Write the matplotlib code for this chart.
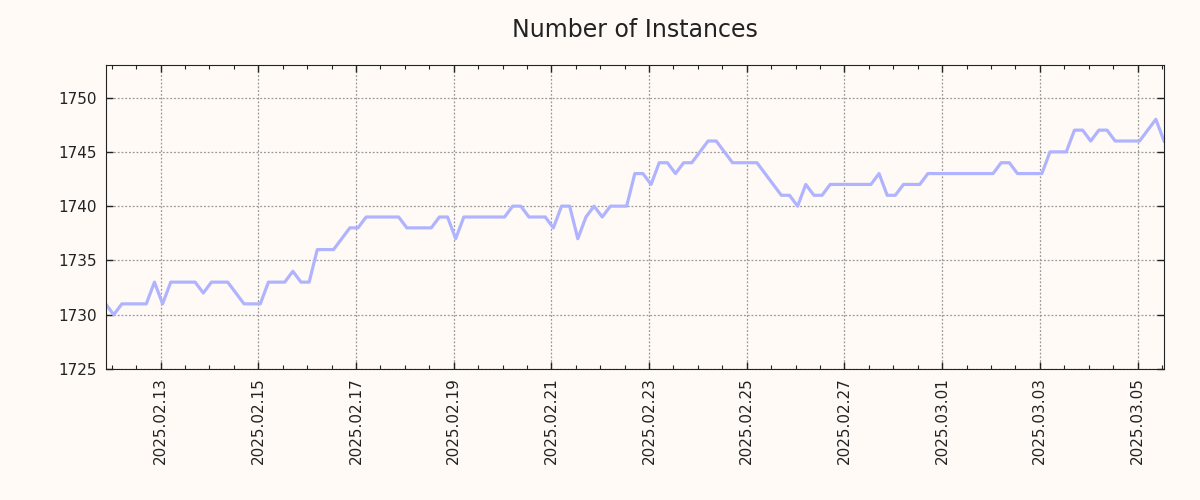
import pandas as pd
import matplotlib
matplotlib.use('Agg')
import matplotlib.pyplot as plt
import matplotlib.dates as mdates

# instance count, one reading every 4 hours
start_time = '2025-02-11 21:00'
step = '4h'
instances = [
    1731, 1730, 1731, 1731, 1731, 1731, 1733, 1731, 1733, 1733,
    1733, 1733, 1732, 1733, 1733, 1733, 1732, 1731, 1731, 1731,
    1733, 1733, 1733, 1734, 1733, 1733, 1736, 1736, 1736, 1737,
    1738, 1738, 1739, 1739, 1739, 1739, 1739, 1738, 1738, 1738,
    1738, 1739, 1739, 1737, 1739, 1739, 1739, 1739, 1739, 1739,
    1740, 1740, 1739, 1739, 1739, 1738, 1740, 1740, 1737, 1739,
    1740, 1739, 1740, 1740, 1740, 1743, 1743, 1742, 1744, 1744,
    1743, 1744, 1744, 1745, 1746, 1746, 1745, 1744, 1744, 1744,
    1744, 1743, 1742, 1741, 1741, 1740, 1742, 1741, 1741, 1742,
    1742, 1742, 1742, 1742, 1742, 1743, 1741, 1741, 1742, 1742,
    1742, 1743, 1743, 1743, 1743, 1743, 1743, 1743, 1743, 1743,
    1744, 1744, 1743, 1743, 1743, 1743, 1745, 1745, 1745, 1747,
    1747, 1746, 1747, 1747, 1746, 1746, 1746, 1746, 1747, 1748,
    1746,
]

df = pd.DataFrame({
    'datetime': pd.date_range(start_time, periods=len(instances), freq=step),
    'instances': instances,
})

bg = '#fffaf6'
fig = plt.figure(figsize=(12, 5), dpi=100, facecolor=bg)
ax = fig.add_axes([0.088, 0.262, 0.882, 0.608], facecolor=bg)

ax.plot(df['datetime'], df['instances'], color='#b0b4ff', linewidth=2.3)

ax.set_xlim(df['datetime'].iloc[0], df['datetime'].iloc[-1])
ax.set_ylim(1725, 1753)
ax.set_yticks(range(1725, 1751, 5))

ax.xaxis.set_major_locator(mdates.DayLocator(bymonthday=range(1, 32, 2)))
ax.xaxis.set_minor_locator(mdates.HourLocator(byhour=[0, 12]))
ax.xaxis.set_major_formatter(mdates.DateFormatter('%Y.%m.%d'))
plt.setp(ax.get_xticklabels(), rotation=90)

ax.tick_params(which='both', direction='in', top=True, right=True,
               labelsize=11, colors='#222222')
ax.tick_params(which='major', length=5, width=1, pad=6)
ax.tick_params(which='minor', length=3, width=0.8)
for s in ax.spines.values():
    s.set_color('#222222')

ax.grid(True, which='major', linestyle=(0, (1.5, 1.5)), color='#999999', linewidth=0.9)

ax.set_title('Number of Instances', fontsize=17, color='#222222', pad=20)

plt.savefig('out.png', dpi=100, facecolor=bg)
